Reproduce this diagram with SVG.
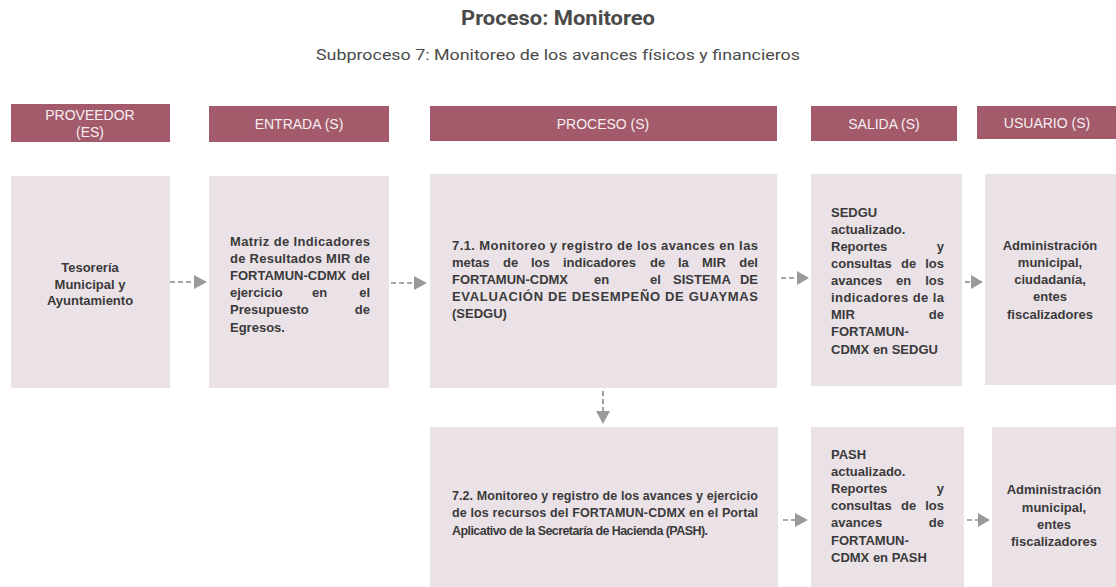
<svg xmlns="http://www.w3.org/2000/svg" width="1116" height="587" viewBox="0 0 1116 587">
<style>
.hdr{fill:#a35a6b}
.box{fill:#ebe2e8}
.ht{font-family:"Liberation Sans",Arial,sans-serif;font-size:14px;fill:#f6eef1;text-anchor:middle}
.t{font-family:"Liberation Sans",Arial,sans-serif;font-size:13px;font-weight:bold;fill:#3a3a3a}
.t2{font-family:"Liberation Sans",Arial,sans-serif;font-size:12.5px;font-weight:bold;fill:#3a3a3a}
.c{text-anchor:middle}
.e{text-anchor:end}
.dash{stroke:#8a8a8a;stroke-width:1.6;stroke-dasharray:5 3;fill:none}
.head{fill:#9a9a9a}
</style>
<rect width="1116" height="587" fill="#ffffff"/>
<text x="558" y="25" text-anchor="middle" font-family="Roboto,'Liberation Sans',sans-serif" font-size="21" font-weight="bold" fill="#4a4a4a" textLength="194" lengthAdjust="spacingAndGlyphs">Proceso: Monitoreo</text>
<text x="558" y="60" text-anchor="middle" font-family="Roboto,'Liberation Sans',sans-serif" font-size="14" fill="#4a4a4a" textLength="484" lengthAdjust="spacingAndGlyphs">Subproceso 7: Monitoreo de los avances físicos y financieros</text>

<g id="headers">
<rect class="hdr" x="11" y="104" width="159" height="38"/>
<text class="ht" x="90" y="120">PROVEEDOR</text>
<text class="ht" x="90" y="137">(ES)</text>
<rect class="hdr" x="209" y="106" width="180" height="36"/>
<text class="ht" x="299" y="129">ENTRADA (S)</text>
<rect class="hdr" x="430" y="106" width="347" height="35"/>
<text class="ht" x="603" y="129">PROCESO (S)</text>
<rect class="hdr" x="811" y="106" width="146" height="35"/>
<text class="ht" x="884" y="129">SALIDA (S)</text>
<rect class="hdr" x="977" y="106" width="139" height="33"/>
<text class="ht" x="1047" y="128">USUARIO (S)</text>
</g>

<g id="proveedor">
<rect class="box" x="11" y="176" width="159" height="212"/>
<text class="t c" x="90" y="272">Tesorería</text>
<text class="t c" x="90" y="289">Municipal y</text>
<text class="t c" x="90" y="305">Ayuntamiento</text>
</g>

<g id="entrada">
<rect class="box" x="209" y="176" width="180" height="212"/>
<text class="t" x="230" y="246" textLength="140" lengthAdjust="spacing">Matriz de Indicadores</text>
<text class="t" x="230" y="263" textLength="140" lengthAdjust="spacing">de Resultados MIR de</text>
<text class="t" x="230" y="280">FORTAMUN-CDMX</text><text class="t e" x="370" y="280">del</text>
<text class="t" x="230" y="297">ejercicio</text><text class="t" x="312" y="297">en</text><text class="t e" x="370" y="297">el</text>
<text class="t" x="230" y="314">Presupuesto</text><text class="t e" x="370" y="314">de</text>
<text class="t" x="230" y="332">Egresos.</text>
</g>

<g id="proceso71">
<rect class="box" x="430" y="174" width="347" height="214"/>
<text class="t" x="452" y="250" textLength="306" lengthAdjust="spacing">7.1. Monitoreo y registro de los avances en las</text>
<text class="t" y="267"><tspan x="452">metas</tspan><tspan x="503">de</tspan><tspan x="531">los</tspan><tspan x="563">indicadores</tspan><tspan x="650">de</tspan><tspan x="678">la</tspan><tspan x="702">MIR</tspan></text><text class="t e" x="758" y="267">del</text>
<text class="t" y="284"><tspan x="452">FORTAMUN-CDMX</tspan><tspan x="594">en</tspan><tspan x="650">el</tspan><tspan x="673">SISTEMA</tspan></text><text class="t e" x="758" y="284">DE</text>
<text class="t" x="452" y="301" textLength="306" lengthAdjust="spacing">EVALUACIÓN DE DESEMPEÑO DE GUAYMAS</text>
<text class="t" x="452" y="318">(SEDGU)</text>
</g>

<g id="salida1">
<rect class="box" x="811" y="174" width="151" height="212"/>
<text class="t" x="831" y="217">SEDGU</text>
<text class="t" x="831" y="234">actualizado.</text>
<text class="t" x="831" y="251">Reportes</text><text class="t e" x="944" y="251">y</text>
<text class="t" x="831" y="268">consultas</text><text class="t" x="901" y="268">de</text><text class="t e" x="944" y="268">los</text>
<text class="t" x="831" y="285">avances</text><text class="t" x="896" y="285">en</text><text class="t e" x="944" y="285">los</text>
<text class="t" x="831" y="302" textLength="113" lengthAdjust="spacing">indicadores de la</text>
<text class="t" x="831" y="319">MIR</text><text class="t e" x="944" y="319">de</text>
<text class="t" x="831" y="336">FORTAMUN-</text>
<text class="t" x="831" y="354">CDMX en SEDGU</text>
</g>

<g id="usuario1">
<rect class="box" x="985" y="174" width="131" height="211"/>
<text class="t c" x="1050" y="250">Administración</text>
<text class="t c" x="1050" y="267">municipal,</text>
<text class="t c" x="1050" y="284">ciudadanía,</text>
<text class="t c" x="1050" y="301">entes</text>
<text class="t c" x="1050" y="319">fiscalizadores</text>
</g>

<g id="proceso72">
<rect class="box" x="430" y="427" width="348" height="160"/>
<text class="t2" x="452" y="500" textLength="306" lengthAdjust="spacing">7.2. Monitoreo y registro de los avances y ejercicio</text>
<text class="t2" x="452" y="517" textLength="306" lengthAdjust="spacing">de los recursos del FORTAMUN-CDMX en el Portal</text>
<text class="t2" x="452" y="535" textLength="256" lengthAdjust="spacing">Aplicativo de la Secretaría de Hacienda (PASH).</text>
</g>

<g id="salida2">
<rect class="box" x="811" y="427" width="153" height="160"/>
<text class="t" x="831" y="459">PASH</text>
<text class="t" x="831" y="476">actualizado.</text>
<text class="t" x="831" y="493">Reportes</text><text class="t e" x="944" y="493">y</text>
<text class="t" x="831" y="510">consultas</text><text class="t" x="901" y="510">de</text><text class="t e" x="944" y="510">los</text>
<text class="t" x="831" y="527">avances</text><text class="t e" x="944" y="527">de</text>
<text class="t" x="831" y="545">FORTAMUN-</text>
<text class="t" x="831" y="562">CDMX en PASH</text>
</g>

<g id="usuario2">
<rect class="box" x="992" y="427" width="124" height="160"/>
<text class="t c" x="1054" y="494">Administración</text>
<text class="t c" x="1054" y="512">municipal,</text>
<text class="t c" x="1054" y="529">entes</text>
<text class="t c" x="1054" y="546">fiscalizadores</text>
</g>

<g id="connectors">
<line class="dash" x1="170" y1="282" x2="194" y2="282"/>
<polygon class="head" points="194,275 207,282 194,289"/>
<line class="dash" x1="391" y1="283" x2="414" y2="283"/>
<polygon class="head" points="414,276 427,283 414,290"/>
<line class="dash" x1="781" y1="278" x2="797" y2="278"/>
<polygon class="head" points="797,271 809,278 797,285"/>
<line class="dash" x1="965" y1="282" x2="971" y2="282"/>
<polygon class="head" points="971,275 983,282 971,289"/>
<line class="dash" x1="603" y1="391" x2="603" y2="411"/>
<polygon class="head" points="596,411 603,424 610,411"/>
<line class="dash" x1="783" y1="520" x2="795" y2="520"/>
<polygon class="head" points="795,513 808,520 795,527"/>
<line class="dash" x1="967" y1="520" x2="978" y2="520"/>
<polygon class="head" points="978,513 990,520 978,527"/>
</g>
</svg>
